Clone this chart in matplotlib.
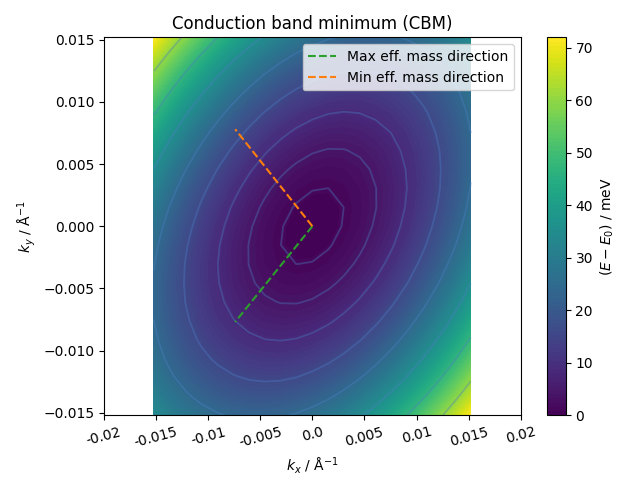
import numpy as np
import matplotlib
matplotlib.use("Agg")
from matplotlib import pyplot as plt

# k grid around the CBM (1/Angstrom)
k_max = 0.0152
n_k = 21

# band curvature along the principal axes (meV * Angstrom^2)
curv_max_mass = 74000.
curv_min_mass = 155600.
theta_max_mass = 46.2  # deg, direction of the heavy axis

# principal directions drawn from the minimum
max_dir_kx = [0.0, -0.0074]
max_dir_ky = [0.0, -0.0077]
min_dir_kx = [0.0, -0.0074]
min_dir_ky = [0.0, 0.0078]

line_levels = [0.95, 3.9, 8.4, 15.5, 24., 35., 47., 60.]
xtick_vals = [-0.02, -0.015, -0.01, -0.005, 0.0, 0.005, 0.01, 0.015, 0.02]
cbar_ticks = [0, 10, 20, 30, 40, 50, 60, 70]

k = np.linspace(-k_max, k_max, n_k)
KX, KY = np.meshgrid(k, k)
th = np.deg2rad(theta_max_mass)
u = KX*np.cos(th) + KY*np.sin(th)
v = -KX*np.sin(th) + KY*np.cos(th)
E = curv_max_mass*u**2 + curv_min_mass*v**2

fig, ax = plt.subplots(figsize=(6.4, 4.8), dpi=100)
cf = ax.contourf(KX, KY, E, levels=100, cmap='viridis')
ax.contour(KX, KY, E, levels=line_levels, colors='#4a7fc0', alpha=0.38,
           linewidths=1.3)

ax.plot(max_dir_kx, max_dir_ky, '--', color='C2', label='Max eff. mass direction')
ax.plot(min_dir_kx, min_dir_ky, '--', color='C1', label='Min eff. mass direction')

ax.set_xlim(-0.02, 0.02)
ax.set_xticks(xtick_vals)
ax.set_xticklabels([str(t) for t in xtick_vals])
ax.set_xlabel(r'$k_x$ / Å$^{-1}$')
ax.set_ylabel(r'$k_y$ / Å$^{-1}$')
ax.set_title('Conduction band minimum (CBM)')
ax.legend(loc='upper right')

cb = fig.colorbar(cf, ax=ax, ticks=cbar_ticks)
cb.set_label(r'$(E-E_0)$ / meV')

fig.tight_layout()
# rotated after the layout, as in the original
for lab in ax.get_xticklabels():
    lab.set_rotation(15)
fig.savefig('out.png')
